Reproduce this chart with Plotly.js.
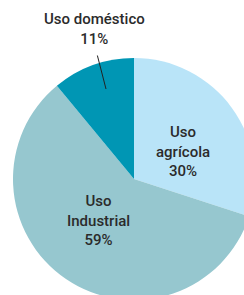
<!DOCTYPE html>
<html>
<head>
<meta charset="utf-8">
<script src="https://cdn.plot.ly/plotly-3.0.1.min.js"></script>
<style>
html, body { margin: 0; padding: 0; overflow: hidden; background: #fff; }
#chart { width: 260px; height: 310px; }
</style>
</head>
<body>
<div id="chart"></div>
<script>
const labels = ["Uso<br>agrícola", "Uso<br>Industrial", "Uso doméstico"];
const values = [30, 59, 11];
const colors = ["#b9e4f8", "#96c7cf", "#0096b4"];

const W = 260, H = 310;
const px = x => x / W;
const py = y => 1 - y / H;

const labelPos = [
  {x: 183, y: 152},
  {x: 98, y: 220},
  {x: 94, y: 29}
];

const annotations = labels.map((l, i) => ({
  text: l + "<br>" + values[i] + "%",
  xref: "paper", yref: "paper",
  x: px(labelPos[i].x), y: py(labelPos[i].y),
  xanchor: "center", yanchor: "middle",
  showarrow: false,
  font: {family: "Roboto, sans-serif", size: 15, color: "#2b2b2b", weight: 500}
}));
// leader line for the small slice
annotations.push({
  xref: "paper", yref: "paper",
  x: px(106), y: py(89),
  ax: 97 - 106, ay: 54 - 89,
  axref: "pixel", ayref: "pixel",
  showarrow: true, arrowhead: 0, arrowwidth: 1, arrowcolor: "#222",
  text: ""
});

const trace = {
  type: "pie",
  labels: labels,
  values: values,
  sort: false,
  direction: "clockwise",
  rotation: 0,
  marker: {colors: colors, line: {width: 0}},
  textinfo: "none",
  hoverinfo: "none",
  domain: {x: [px(13), px(255)], y: [py(300), py(58)]}
};

Plotly.newPlot("chart", [trace], {
  width: W, height: H,
  margin: {l: 0, r: 0, t: 0, b: 0},
  showlegend: false,
  paper_bgcolor: "#ffffff",
  annotations: annotations
}, {staticPlot: true});
</script>
</body>
</html>
